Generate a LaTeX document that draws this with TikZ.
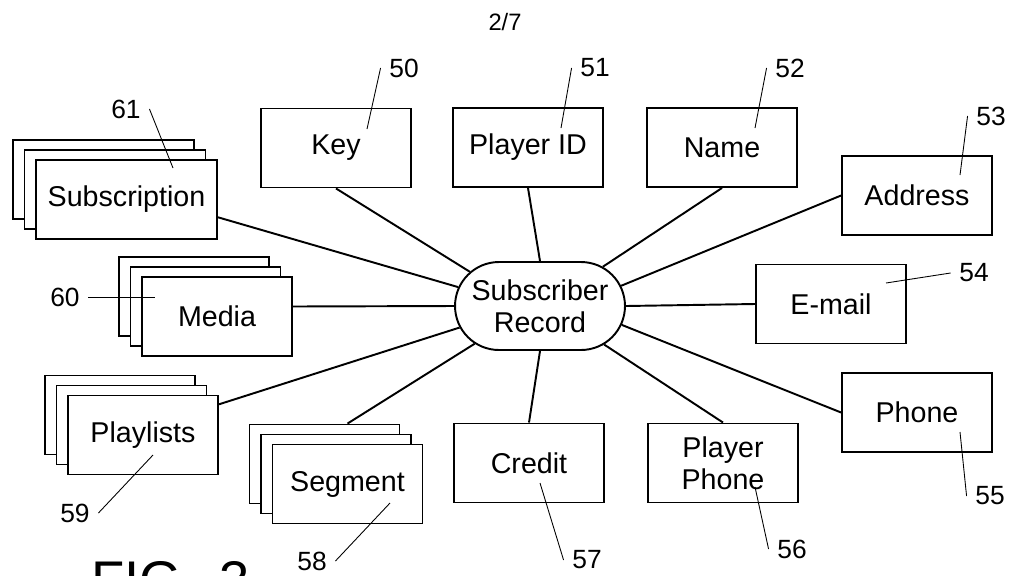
\documentclass[tikz,border=0pt]{standalone}
\usepackage{fontspec}
\setmainfont{Liberation Sans}
\usetikzlibrary{shapes.misc,shadows}

\begin{document}
\begin{tikzpicture}[x=0.02cm,y=-0.02cm,
  field/.style={draw,line width=1.1pt,fill=white,minimum width=3cm,minimum height=1.58cm,
    inner sep=2pt,align=center,font=\fontsize{16.3}{18}\selectfont},
  stack/.style={field,copy shadow={shadow xshift=-0.46cm,shadow yshift=0.4cm},
    copy shadow={shadow xshift=-0.23cm,shadow yshift=0.2cm}},
  num/.style={inner sep=0pt,outer sep=5pt,font=\fontsize{15}{17}\selectfont},
  link/.style={line width=1.1pt},
  lead/.style={line width=0.5pt}]
\useasboundingbox (0,0) rectangle (1016,575);
\clip (0,0) rectangle (1016,575);

\node at (505,22) (page) {\fontsize{13.5}{16}\selectfont 2/7};

% record in the middle
\node[draw,line width=1.1pt,rounded rectangle,minimum width=3.4cm,minimum height=1.76cm,
  inner sep=0pt,align=center,font=\fontsize{16.3}{18}\selectfont] at (540,306) (rec) {Subscriber\\Record};

% single fields
\node[field] at (336,148) (key) {Key};
\node[field] at (528,147.5) (pid) {Player ID};
\node[field] at (722,147.5) (name) {Name};
\node[field] at (917,195.5) (addr) {Address};
\node[field] at (831,304) (email) {E-mail};
\node[field] at (917,412.5) (phone) {Phone};
\node[field] at (723,463) (pphone) {Player\\Phone};
\node[field] at (529,463) (credit) {Credit};

% stacked fields
\node[stack] at (347.5,484) (seg) {Segment};
\node[stack] at (143,435) (plist) {Playlists};
\node[stack] at (217,316.5) (media) {Media};
\node[stack,minimum width=3.62cm] at (126.5,199.5) (sub) {Subscription};

\draw[link] (key.south) -- (rec.154);
\draw[link] (pid.south) -- (rec.north);
\draw[link] (name.south) -- (rec.32);
\draw[link] (addr.west) -- (rec.14);
\draw[link] (email.west) -- (rec.east);
\draw[link] (phone.west) -- (rec.-13);
\draw[link] (pphone.north) -- (rec.-31);
\draw[link] (credit.north) -- (rec.south);
\draw[link] ([yshift=0.4cm]seg.north) -- (rec.210);
\draw[link] (plist.22) -- (rec.195);
\draw[link] ([yshift=0.2cm]media.east) -- (rec.west);
\draw[link] (sub.-11.5) -- (rec.167);

% reference numerals
\coordinate (t50) at (367,129);
\coordinate (t51) at (561,128);
\coordinate (t52) at (755,128);
\coordinate (t53) at (960,175);
\coordinate (t54) at (886,283);
\coordinate (t55) at (960,432);
\coordinate (t56) at (755,487);
\coordinate (t57) at (540,483);
\coordinate (t58) at (390,503);
\coordinate (t59) at (153,455);
\coordinate (t60) at (155,297);
\coordinate (t61) at (173,168);

\node[num] at (404,68) (l50) {50};
\node[num] at (595,68) (l51) {51};
\node[num] at (790,68) (l52) {52};
\node[num] at (991,116) (l53) {53};
\node[num] at (974,273) (l54) {54};
\node[num] at (990,496) (l55) {55};
\node[num] at (792,549) (l56) {56};
\node[num] at (587,560) (l57) {57};
\node[num] at (312,561) (l58) {58};
\node[num] at (75,513) (l59) {59};
\node[num] at (65,297) (l60) {60};
\node[num] at (126,109) (l61) {61};

\draw[lead] (l50.west) -- (t50);
\draw[lead] (l51.west) -- (t51);
\draw[lead] (l52.west) -- (t52);
\draw[lead] (l53.west) -- (t53);
\draw[lead] (l54.west) -- (t54);
\draw[lead] (l55.west) -- (t55);
\draw[lead] (l56.west) -- (t56);
\draw[lead] (l57.west) -- (t57);
\draw[lead] (l58.east) -- (t58);
\draw[lead] (l59.east) -- (t59);
\draw[lead] (l60.east) -- (t60);
\draw[lead] (l61.east) -- (t61);

\node[anchor=base west,inner sep=0pt,font=\fontsize{31}{36}\selectfont] at (91,599) (fig) {FIG.\hspace{0.4em}3};
\end{tikzpicture}
\end{document}
